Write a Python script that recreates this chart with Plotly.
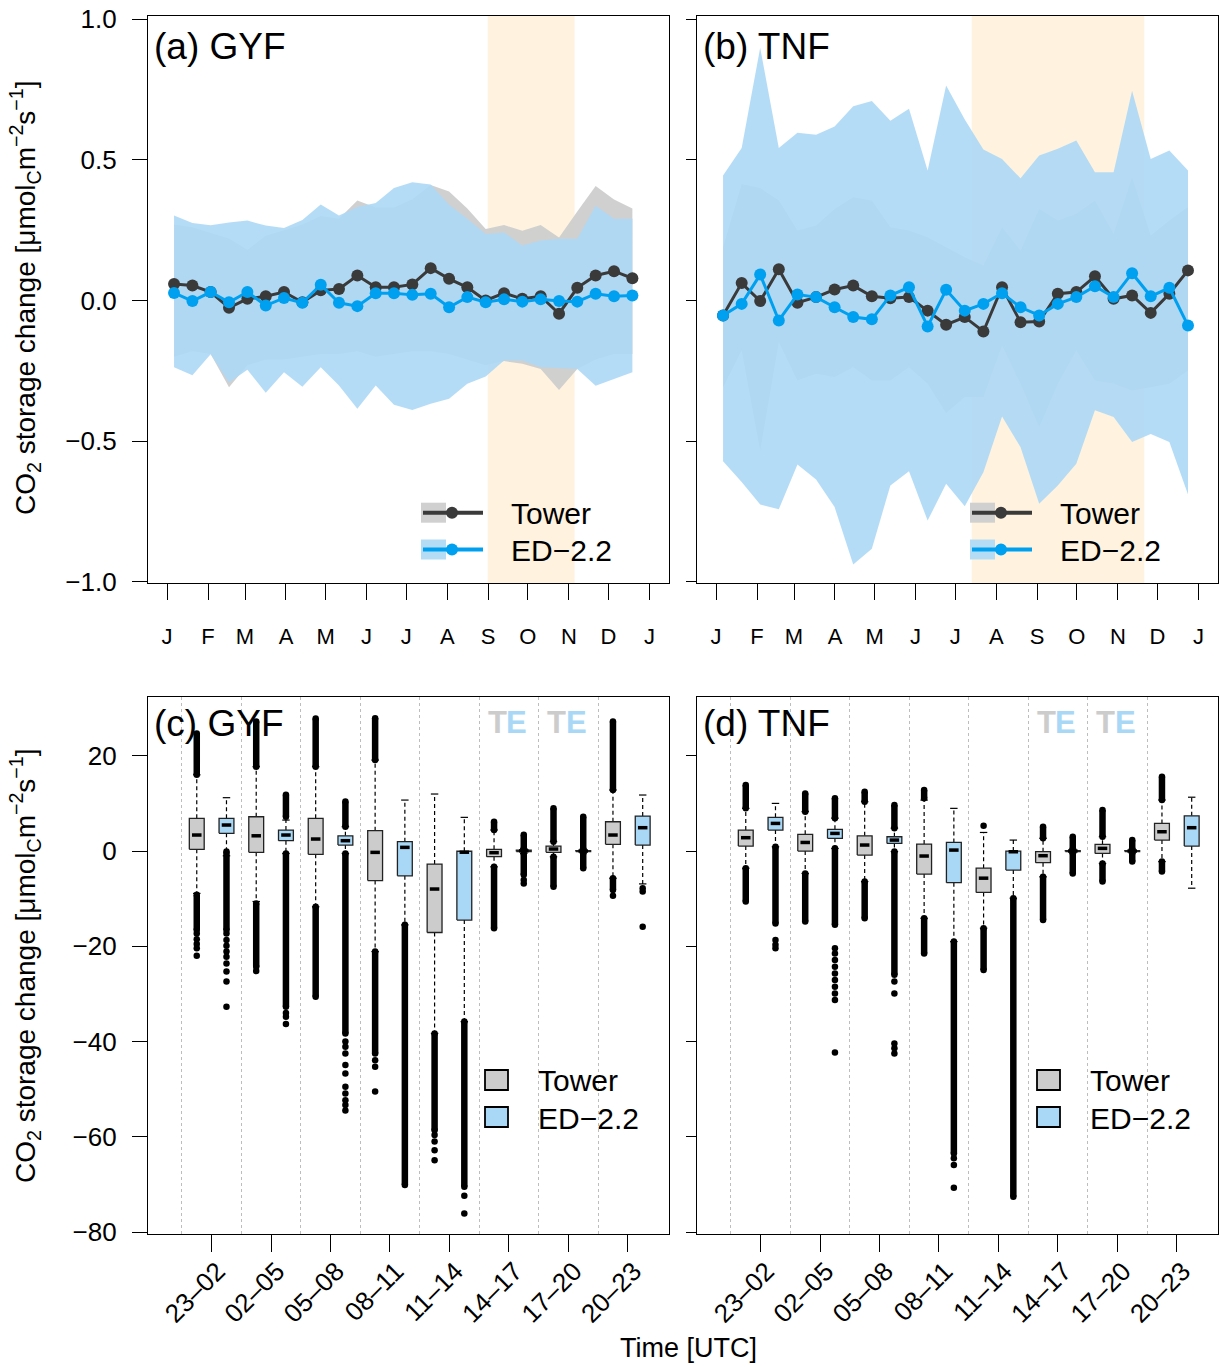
import plotly.graph_objects as go

W, H = 1220, 1367
FONT = "Liberation Sans"

# ---------------- panels (a) and (b): seasonal cycle ----------------
month_ticks = [1, 32, 60, 91, 121, 152, 182, 213, 244, 274, 305, 335, 366]
month_labels = ["J", "F", "M", "A", "M", "J", "J", "A", "S", "O", "N", "D", "J"]

a_day = [6.3, 20.2, 34.0, 47.9, 61.8, 75.7, 89.5, 103.4, 117.3, 131.1, 145.0, 158.9, 172.7,
         186.6, 200.5, 214.4, 228.2, 242.1, 256.0, 269.8, 283.7, 297.6, 311.4, 325.3, 339.2, 353.1]
a_tower_mean = [0.059, 0.053, 0.030, -0.026, 0.006, 0.015, 0.030, -0.006, 0.036, 0.041, 0.089, 0.047, 0.047,
                0.057, 0.115, 0.077, 0.047, 0.000, 0.026, 0.006, 0.015, -0.047, 0.045, 0.089, 0.104, 0.079]
a_ed_mean = [0.027, -0.002, 0.030, -0.006, 0.030, -0.018, 0.009, -0.008, 0.056, -0.008, -0.020, 0.026, 0.026,
             0.020, 0.024, -0.024, 0.012, -0.006, 0.004, -0.004, 0.004, -0.002, -0.004, 0.024, 0.015, 0.018]
a_tower_hi = [0.27, 0.26, 0.24, 0.22, 0.18, 0.23, 0.25, 0.27, 0.30, 0.29, 0.355, 0.33, 0.33,
              0.36, 0.41, 0.387, 0.327, 0.254, 0.268, 0.248, 0.268, 0.224, 0.316, 0.407, 0.359, 0.327]
a_tower_lo = [-0.20, -0.18, -0.19, -0.308, -0.23, -0.21, -0.21, -0.20, -0.19, -0.19, -0.18, -0.20, -0.19,
              -0.18, -0.18, -0.19, -0.21, -0.23, -0.215, -0.225, -0.243, -0.318, -0.243, -0.21, -0.19, -0.19]
a_ed_hi = [0.302, 0.275, 0.267, 0.277, 0.284, 0.266, 0.258, 0.286, 0.341, 0.302, 0.332, 0.346, 0.400,
           0.420, 0.412, 0.340, 0.290, 0.236, 0.242, 0.195, 0.213, 0.219, 0.219, 0.337, 0.290, 0.290]
a_ed_lo = [-0.237, -0.266, -0.191, -0.291, -0.246, -0.328, -0.255, -0.306, -0.237, -0.302, -0.385, -0.302, -0.370,
           -0.389, -0.367, -0.349, -0.296, -0.270, -0.213, -0.213, -0.237, -0.240, -0.243, -0.303, -0.278, -0.255]
a_season = [243.6, 309.4]

b_day = [6.3, 20.4, 34.4, 48.5, 62.6, 76.7, 90.7, 104.8, 118.9, 132.9, 147.0, 161.1, 175.1,
         189.2, 203.3, 217.4, 231.4, 245.5, 259.6, 273.6, 287.7, 301.8, 315.8, 329.9, 344.0, 358.1]
b_tower_mean = [-0.053, 0.062, -0.002, 0.111, -0.008, 0.012, 0.039, 0.053, 0.015, 0.008, 0.012, -0.036, -0.086,
                -0.059, -0.110, 0.047, -0.077, -0.075, 0.024, 0.030, 0.086, 0.006, 0.018, -0.044, 0.024, 0.107]
b_ed_mean = [-0.053, -0.012, 0.092, -0.071, 0.021, 0.012, -0.024, -0.059, -0.067, 0.018, 0.047, -0.092, 0.038,
             -0.036, -0.012, 0.026, -0.024, -0.053, -0.012, 0.012, 0.051, 0.012, 0.097, 0.015, 0.045, -0.089]
b_tower_hi = [0.189, 0.414, 0.40, 0.355, 0.249, 0.266, 0.325, 0.367, 0.355, 0.260, 0.249, 0.225, 0.189,
              0.154, 0.124, 0.260, 0.178, 0.325, 0.284, 0.308, 0.355, 0.237, 0.438, 0.231, 0.284, 0.332]
b_tower_lo = [-0.308, -0.178, -0.533, -0.148, -0.284, -0.260, -0.272, -0.237, -0.284, -0.284, -0.237, -0.296, -0.40,
              -0.343, -0.343, -0.160, -0.296, -0.45, -0.296, -0.178, -0.284, -0.296, -0.320, -0.308, -0.296, -0.249]
b_ed_hi = [0.444, 0.542, 0.898, 0.542, 0.596, 0.589, 0.618, 0.690, 0.709, 0.639, 0.681, 0.462, 0.764,
           0.643, 0.536, 0.503, 0.434, 0.515, 0.539, 0.568, 0.456, 0.456, 0.745, 0.503, 0.533, 0.462]
b_ed_lo = [-0.571, -0.645, -0.725, -0.742, -0.583, -0.636, -0.734, -0.938, -0.882, -0.657, -0.607, -0.782, -0.651,
           -0.731, -0.610, -0.412, -0.521, -0.722, -0.657, -0.580, -0.39, -0.414, -0.503, -0.474, -0.503, -0.689]
b_season = [194.5, 325.0]

# ---------------- panels (c) and (d): diurnal boxplots ----------------
box_pos = list(range(1, 17))                      # Tower, ED alternating per time bin
bin_ticks = [1.5, 3.5, 5.5, 7.5, 9.5, 11.5, 13.5, 15.5]
bin_labels = ["23–02", "02–05", "05–08", "08–11", "11–14", "14–17", "17–20", "20–23"]
bin_edges = [0.5, 2.5, 4.5, 6.5, 8.5, 10.5, 12.5, 14.5]

c_q1 = [0.35, 3.71, -0.28, 2.17, -0.7, 1.26, -6.2, -5.2, -17.1, -14.5, -1.19, -0.1, -0.28, -0.1, 1.4, 1.26]
c_med = [3.36, 5.46, 3.2, 3.36, 2.52, 2.17, -0.28, 0.77, -7.98, -0.25, -0.35, 0.05, 0.42, 0.0, 3.36, 4.9]
c_q3 = [6.87, 6.87, 7.2, 4.4, 6.87, 3.2, 4.27, 1.96, -2.73, -0.05, 0.35, 0.2, 1.05, 0.1, 6.15, 7.35]
c_whi = [16.0, 11.2, 17.7, 6.5, 17.7, 5.1, 19.1, 10.7, 11.97, 7.07, 4.4, 0.5, 1.96, 0.4, 12.8, 11.76]
c_wlo = [-8.9, -1.0, -10.6, -0.5, -11.7, -0.5, -21.1, -15.5, -38.3, -35.8, -3.3, -0.5, -1.2, -0.4, -5.7, -6.9]
c_up = [[16.0, 24.7], None, [17.7, 27.2], [7.2, 11.8], [17.7, 27.8], [5.1, 10.4], [19.1, 27.9], None,
        None, None, [4.4, 6.15], [0.5, 3.4], [1.96, 8.96], [0.4, 7.2], [12.8, 27.2], None]
c_lo = [[-9.2, -16.6], [-0.1, -16.6], [-11.0, -24.3], [-0.5, -32.7], [-11.7, -30.6], [-0.5, -38.3],
        [-21.1, -42.5], [-15.5, -70.1], [-38.3, -58.6], [-35.8, -70.5], [-3.3, -16.2], [-0.5, -5.0],
        [-1.2, -7.5], [-0.4, -3.6], [-5.7, -8.2], None]
c_sparse = [[-17.3, -18.5, -19.5, -20.4, -22.0],
            [-17.3, -18.7, -19.9, -21.1, -22.2, -23.6, -25.3, -27.4, -32.7],
            [-25.2], [-34.0, -34.8, -36.3], [],
            [-40.0, -41.1, -42.5, -44.9, -46.7, -49.5, -50.9, -52.3, -53.3, -54.5],
            [-43.9, -45.3, -50.5], [], [-59.6, -61.0, -62.8, -64.9], [-72.4, -76.1],
            [], [-6.1, -6.8], [], [], [-9.4], [-7.8, -8.5, -15.9]]

d_q1 = [1.05, 4.4, 0.0, 2.66, -0.84, 1.6, -4.83, -6.65, -8.7, -4.0, -2.45, -0.1, -0.5, -0.1, 2.3, 1.05]
d_med = [2.8, 5.8, 1.8, 3.7, 1.26, 2.3, -1.05, 0.2, -5.7, -0.15, -0.98, 0.0, 0.56, 0.0, 4.05, 4.9]
d_q3 = [4.4, 7.07, 3.5, 4.55, 3.2, 3.0, 1.47, 1.8, -3.6, 0.0, -0.14, 0.1, 1.4, 0.1, 5.8, 7.4]
d_whi = [8.96, 10.0, 8.26, 6.9, 10.35, 4.8, 10.7, 8.96, 3.9, 2.3, 2.66, 0.4, 3.0, 0.4, 10.7, 11.3]
d_wlo = [-3.6, 0.9, -4.7, 0.56, -6.4, -0.1, -14.1, -19.0, -16.2, -9.9, -5.4, -0.4, -2.6, -0.4, -2.2, -7.8]
d_up = [[8.96, 13.86], None, [8.26, 12.1], [6.9, 11.1], [10.35, 12.45], [4.8, 9.66], [11.1, 12.8], None,
        None, None, [2.66, 5.1], [0.4, 3.0], [3.0, 8.6], [0.4, 2.3], [10.7, 15.6], None]
d_lo = [[-3.6, -10.6], [0.9, -15.2], [-4.7, -14.8], [0.56, -15.5], [-6.4, -14.1], [-0.1, -26.0],
        [-14.1, -21.5], [-19.0, -63.5], [-16.2, -25.0], [-9.9, -72.6], [-5.4, -14.5], [-0.4, -4.7],
        [-2.6, -6.4], [-0.4, -2.2], [-2.2, -4.3], None]
d_sparse = [[], [-18.7, -19.7, -20.4], [],
            [-20.4, -21.5, -22.9, -24.3, -25.7, -27.1, -28.5, -29.9, -31.3, -42.3],
            [], [-27.4, -29.9, -40.4, -41.4, -42.5], [], [-64.5, -65.9, -70.7],
            [5.3], [], [], [], [], [], [], []]

# ---------------- styles ----------------
TOWER_LINE = "#3a3a3a"
ED_LINE = "#00a0f0"
TOWER_BAND = "rgba(206,206,206,0.95)"
ED_BAND = "rgba(174,217,245,0.91)"
SEASON = "#fff3e0"
TOWER_BOX = "#cccccc"
ED_BOX = "#a9d8f7"

XDOM_L = [148 / W, 669 / W]
XDOM_R = [697 / W, 1218 / W]
YDOM_T = [1 - 583 / H, 1 - 16 / H]
YDOM_B = [1 - 1233.5 / H, 1 - 697 / H]


def px(x):
    return x / W


def py(y):
    return 1 - y / H


fig = go.Figure()


def add_season(xa, ya, days, tower_m, ed_m, tower_hi, tower_lo, ed_hi, ed_lo):
    fig.add_trace(go.Scatter(x=days + days[::-1], y=tower_hi + tower_lo[::-1], fill="toself",
                             fillcolor=TOWER_BAND, line=dict(width=0), mode="lines",
                             xaxis=xa, yaxis=ya, showlegend=False, hoverinfo="skip"))
    fig.add_trace(go.Scatter(x=days + days[::-1], y=ed_hi + ed_lo[::-1], fill="toself",
                             fillcolor=ED_BAND, line=dict(width=0), mode="lines",
                             xaxis=xa, yaxis=ya, showlegend=False, hoverinfo="skip"))
    fig.add_trace(go.Scatter(x=days, y=tower_m, mode="lines+markers",
                             line=dict(color=TOWER_LINE, width=3),
                             marker=dict(color=TOWER_LINE, size=12),
                             xaxis=xa, yaxis=ya, showlegend=False))
    fig.add_trace(go.Scatter(x=days, y=ed_m, mode="lines+markers",
                             line=dict(color=ED_LINE, width=3),
                             marker=dict(color=ED_LINE, size=12),
                             xaxis=xa, yaxis=ya, showlegend=False))


def add_boxes(xa, ya, q1, med, q3, wlo, whi, up, lo, sparse):
    wx, wy, sx, sy = [], [], [], []
    for i, x in enumerate(box_pos):
        wx += [x, x, None, x, x, None]
        wy += [q3[i], whi[i], None, q1[i], wlo[i], None]
        sx += [x - 0.125, x + 0.125, None, x - 0.125, x + 0.125, None]
        sy += [whi[i], whi[i], None, wlo[i], wlo[i], None]
    fig.add_trace(go.Scatter(x=wx, y=wy, mode="lines",
                             line=dict(color="black", width=1.2, dash="4px,3px"),
                             xaxis=xa, yaxis=ya, showlegend=False, hoverinfo="skip"))
    fig.add_trace(go.Scatter(x=sx, y=sy, mode="lines", line=dict(color="black", width=1.2),
                             xaxis=xa, yaxis=ya, showlegend=False, hoverinfo="skip"))
    for start, col in ((0, TOWER_BOX), (1, ED_BOX)):
        bx, by = [], []
        for i in range(start, 16, 2):
            x = box_pos[i]
            bx += [x - 0.25, x + 0.25, x + 0.25, x - 0.25, x - 0.25, None]
            by += [q1[i], q1[i], q3[i], q3[i], q1[i], None]
        fig.add_trace(go.Scatter(x=bx, y=by, mode="lines", fill="toself", fillcolor=col,
                                 line=dict(color="#222222", width=1.3),
                                 xaxis=xa, yaxis=ya, showlegend=False, hoverinfo="skip"))
    mx, my = [], []
    for i, x in enumerate(box_pos):
        mx += [x - 0.16, x + 0.16, None]
        my += [med[i], med[i], None]
    fig.add_trace(go.Scatter(x=mx, y=my, mode="lines", line=dict(color="black", width=3.5),
                             xaxis=xa, yaxis=ya, showlegend=False, hoverinfo="skip"))
    ox, oy = [], []
    for i, x in enumerate(box_pos):
        for seg in (up[i], lo[i]):
            if seg:
                ox += [x, x, None]
                oy += [seg[0], seg[1], None]
    fig.add_trace(go.Scatter(x=ox, y=oy, mode="lines+markers",
                             line=dict(color="black", width=6.5),
                             marker=dict(color="black", size=6.5),
                             xaxis=xa, yaxis=ya, showlegend=False, hoverinfo="skip"))
    px_, py_ = [], []
    for i, x in enumerate(box_pos):
        for v in sparse[i]:
            px_.append(x)
            py_.append(v)
    fig.add_trace(go.Scatter(x=px_, y=py_, mode="markers",
                             marker=dict(color="black", size=6.5),
                             xaxis=xa, yaxis=ya, showlegend=False, hoverinfo="skip"))


add_season("x", "y", a_day, a_tower_mean, a_ed_mean, a_tower_hi, a_tower_lo, a_ed_hi, a_ed_lo)
add_season("x2", "y2", b_day, b_tower_mean, b_ed_mean, b_tower_hi, b_tower_lo, b_ed_hi, b_ed_lo)
add_boxes("x3", "y3", c_q1, c_med, c_q3, c_wlo, c_whi, c_up, c_lo, c_sparse)
add_boxes("x4", "y4", d_q1, d_med, d_q3, d_wlo, d_whi, d_up, d_lo, d_sparse)

shapes = []
for xr, season in (("x", a_season), ("x2", b_season)):
    yr = "y domain" if xr == "x" else "y2 domain"
    shapes.append(dict(type="rect", xref=xr, yref=yr, x0=season[0], x1=season[1], y0=0, y1=1,
                       fillcolor=SEASON, line=dict(width=0), layer="below"))

annotations = []
# legends of top panels
for dx in (0, 549):
    for yy, band, line in ((512.7, "#d0d0d0", TOWER_LINE), (549.5, "#b5dcf5", ED_LINE)):
        shapes.append(dict(type="rect", xref="paper", yref="paper", x0=px(421 + dx), x1=px(446 + dx),
                           y0=py(yy + 10), y1=py(yy - 10), fillcolor=band, line=dict(width=0)))
        shapes.append(dict(type="line", xref="paper", yref="paper", x0=px(423 + dx), x1=px(483 + dx),
                           y0=py(yy), y1=py(yy), line=dict(color=line, width=4)))
        shapes.append(dict(type="circle", xref="paper", yref="paper", x0=px(446 + dx), x1=px(458 + dx),
                           y0=py(yy + 6), y1=py(yy - 6), fillcolor=line, line=dict(width=0)))
    annotations.append(dict(xref="paper", yref="paper", x=px(509 + dx), y=py(513), text="Tower",
                            xanchor="left", yanchor="middle", showarrow=False, font=dict(size=30)))
    annotations.append(dict(xref="paper", yref="paper", x=px(509 + dx), y=py(550), text="ED−2.2",
                            xanchor="left", yanchor="middle", showarrow=False, font=dict(size=30)))

# legends of bottom panels
for dx in (0, 552):
    for yy, col in ((1080, TOWER_BOX), (1117, ED_BOX)):
        shapes.append(dict(type="rect", xref="paper", yref="paper", x0=px(485 + dx), x1=px(508 + dx),
                           y0=py(yy + 10), y1=py(yy - 10), fillcolor=col,
                           line=dict(color="black", width=1.8)))
    annotations.append(dict(xref="paper", yref="paper", x=px(536 + dx), y=py(1080), text="Tower",
                            xanchor="left", yanchor="middle", showarrow=False, font=dict(size=30)))
    annotations.append(dict(xref="paper", yref="paper", x=px(536 + dx), y=py(1118), text="ED−2.2",
                            xanchor="left", yanchor="middle", showarrow=False, font=dict(size=30)))

# panel labels
for lbl, x, y in (("(a) GYF", 152, 46), ("(b) TNF", 701, 46), ("(c) GYF", 152, 723), ("(d) TNF", 701, 723)):
    annotations.append(dict(xref="paper", yref="paper", x=px(x), y=py(y), text=lbl, xanchor="left",
                            yanchor="middle", showarrow=False, font=dict(size=37)))

# T / E markers
for xr, yr in (("x3", "y3"), ("x4", "y4")):
    for pos, letter, col, sh in ((11, "T", TOWER_BOX, 3), (12, "E", ED_BOX, -7),
                                 (13, "T", TOWER_BOX, 3), (14, "E", ED_BOX, -7)):
        annotations.append(dict(xref=xr, yref=yr, x=pos, y=27, text="<b>" + letter + "</b>", xshift=sh,
                                showarrow=False, font=dict(size=31, color=col)))

# axis titles
ytitle = "CO<sub>2</sub> storage change [μmol<sub>C</sub>m<sup>−2</sup>s<sup>−1</sup>]"
for yc in (298, 966):
    annotations.append(dict(xref="paper", yref="paper", x=px(25), y=py(yc), text=ytitle, textangle=-90,
                            xanchor="center", yanchor="middle", showarrow=False, font=dict(size=28)))
annotations.append(dict(xref="paper", yref="paper", x=px(688), y=py(1348), text="Time [UTC]",
                        xanchor="center", yanchor="middle", showarrow=False, font=dict(size=27)))

axis_common = dict(showline=True, mirror=True, linecolor="black", linewidth=1.3, showgrid=False,
                   zeroline=False, ticks="outside", tickcolor="black", tickwidth=1.2, automargin=False)

top_x = dict(axis_common, range=[-13.4, 380.8], tickmode="array", tickvals=month_ticks,
             ticktext=month_labels, ticklen=16, tickfont=dict(size=22), ticklabelstandoff=17)
top_y_vals = [-1, -0.5, 0, 0.5, 1]
top_y_text = ["−1.0", "−0.5", "0.0", "0.5", "1.0"]
bot_x = dict(axis_common, range=[-0.64, 16.885], tickmode="array", tickvals=bin_ticks,
             ticktext=bin_labels, ticklen=17, tickangle=-45, tickfont=dict(size=26),
             ticklabelstandoff=-6, ticklabelshift=6,
             minor=dict(tickmode="array", tickvals=bin_edges, showgrid=True, gridcolor="#bdbdbd",
                        griddash="dot", gridwidth=1, ticks=""))
bot_y_vals = [-80, -60, -40, -20, 0, 20]
bot_y_text = ["−80", "−60", "−40", "−20", "0", "20"]

fig.update_layout(
    width=W, height=H, margin=dict(l=0, r=0, t=0, b=0, pad=0, autoexpand=False),
    paper_bgcolor="white", plot_bgcolor="white",
    font=dict(family=FONT, color="black", size=24),
    showlegend=False,
    xaxis=dict(top_x, domain=XDOM_L, anchor="y"),
    xaxis2=dict(top_x, domain=XDOM_R, anchor="y2"),
    yaxis=dict(axis_common, domain=YDOM_T, anchor="x", range=[-1.0036, 1.0107], tickmode="array",
               tickvals=top_y_vals, ticktext=top_y_text, ticklen=15, tickfont=dict(size=26),
               ticklabelstandoff=10),
    yaxis2=dict(axis_common, domain=YDOM_T, anchor="x2", range=[-1.0036, 1.0107], tickmode="array",
                tickvals=top_y_vals, ticklen=10, showticklabels=False),
    xaxis3=dict(bot_x, domain=XDOM_L, anchor="y3"),
    xaxis4=dict(bot_x, domain=XDOM_R, anchor="y4"),
    yaxis3=dict(axis_common, domain=YDOM_B, anchor="x3", range=[-80.3, 32.34], tickmode="array",
                tickvals=bot_y_vals, ticktext=bot_y_text, ticklen=15, tickfont=dict(size=26),
                ticklabelstandoff=10),
    yaxis4=dict(axis_common, domain=YDOM_B, anchor="x4", range=[-80.3, 32.34], tickmode="array",
                tickvals=bot_y_vals, ticklen=10, showticklabels=False),
    shapes=shapes,
    annotations=annotations,
)

fig.write_html("out.html", config={"displayModeBar": False},
               post_script="document.body.style.margin='0';")
